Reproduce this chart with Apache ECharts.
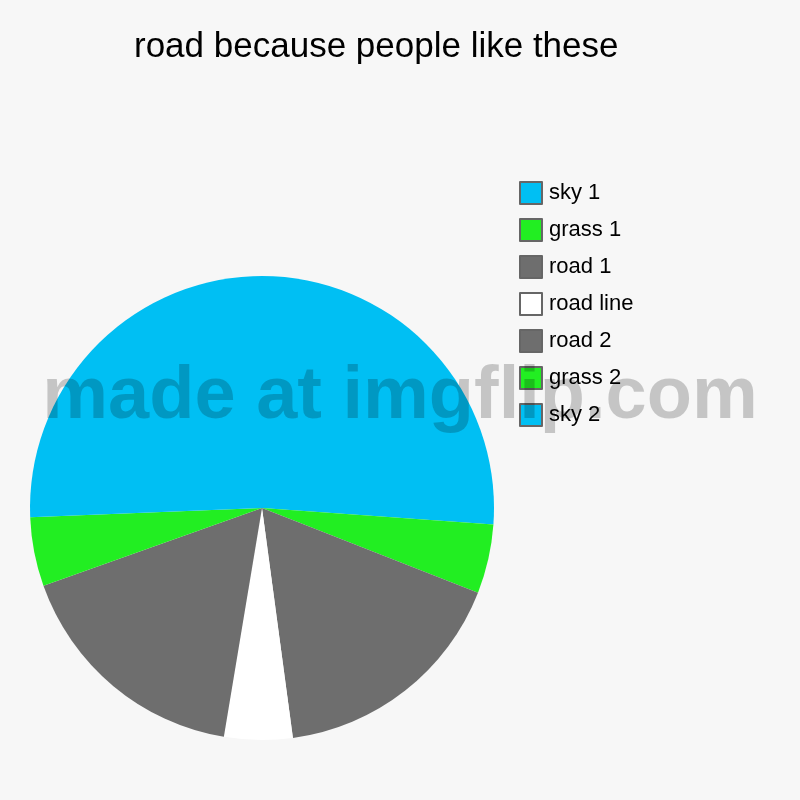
<!DOCTYPE html>
<html>
<head>
<meta charset="utf-8">
<script src="https://cdn.jsdelivr.net/npm/echarts@6/dist/echarts.min.js"></script>
<style>html,body{margin:0;padding:0;background:#f7f7f7;}#c{width:800px;height:800px;}</style>
</head>
<body>
<div id="c"></div>
<script>
var categories = ['sky 1', 'grass 1', 'road 1', 'road line', 'road 2', 'grass 2', 'sky 2'];
var values = [26.1, 4.8, 16.9, 4.75, 16.9, 4.8, 25.6];
var colors = ['#00bff3', '#22ee22', '#6e6e6e', '#ffffff', '#6e6e6e', '#22ee22', '#00bff3'];

var chart = echarts.init(document.getElementById('c'));
chart.setOption({
  backgroundColor: '#f7f7f7',
  animation: false,
  title: {
    text: 'road because people like these',
    left: 129, top: 25,
    textStyle: { fontFamily: 'Liberation Sans, Arial', fontSize: 35, fontWeight: 'normal', color: '#000' }
  },
  legend: {
    orient: 'vertical',
    left: 514, top: 176,
    itemWidth: 22, itemHeight: 22, itemGap: 13,
    icon: 'rect',
    itemStyle: { borderColor: '#666', borderWidth: 2 },
    textStyle: { fontFamily: 'Liberation Sans, Arial', fontSize: 22, color: '#000', padding: [0, 0, 0, 2] },
    data: categories
  },
  series: [{
    type: 'pie',
    center: [262, 508],
    radius: 232,
    startAngle: 90,
    clockwise: true,
    label: { show: false },
    labelLine: { show: false },
    itemStyle: { borderWidth: 0 },
    emphasis: { disabled: true },
    data: categories.map(function (n, i) {
      return { name: n, value: values[i], itemStyle: { color: colors[i] } };
    })
  }],
  graphic: [{
    type: 'text',
    left: 'center', top: 361,
    z: 100,
    style: {
      text: 'made at imgflip.com',
      font: 'bold 74px "Liberation Sans", Arial',
      fill: 'rgba(0,0,0,0.2)'
    }
  }]
});
</script>
</body>
</html>
